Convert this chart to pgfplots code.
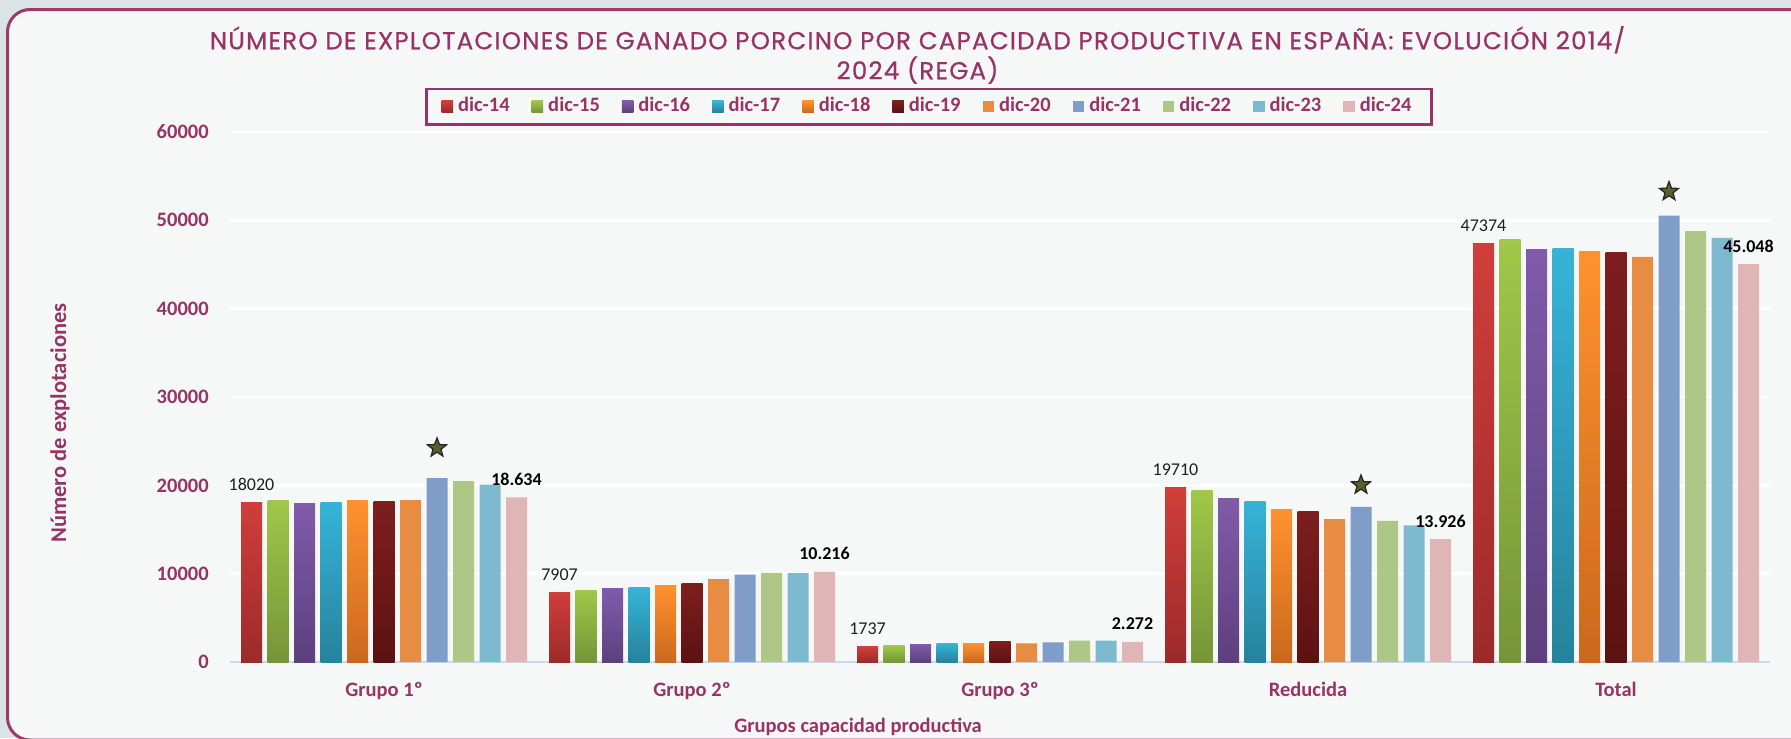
\documentclass[border=0pt]{standalone}
\usepackage{fontspec}
\setmainfont{Carlito}
\newfontfamily\titlefont[LetterSpace=5,FakeBold=0.6]{Poppins}
\usepackage{pgfplots}
\pgfplotsset{compat=1.18}

\definecolor{plum}{HTML}{993366}
\definecolor{outbg}{HTML}{DCE3E5}
\definecolor{inbg}{HTML}{F6F8F7}
\definecolor{frame}{HTML}{9E3A6A}
\definecolor{baseln}{HTML}{C9D9EE}
\definecolor{starfill}{HTML}{5B5E2E}
% series colours, top / bottom of the gradient
\definecolor{c14t}{HTML}{D03E3A}\definecolor{c14b}{HTML}{9C2A2A}
\definecolor{c15t}{HTML}{A0C749}\definecolor{c15b}{HTML}{759538}
\definecolor{c16t}{HTML}{7F5BAA}\definecolor{c16b}{HTML}{5D407E}
\definecolor{c17t}{HTML}{37B3D8}\definecolor{c17b}{HTML}{25839C}
\definecolor{c18t}{HTML}{FF922F}\definecolor{c18b}{HTML}{CB681D}
\definecolor{c19t}{HTML}{7E1E1E}\definecolor{c19b}{HTML}{5C1212}
\definecolor{c20}{HTML}{E88C42}
\definecolor{c21}{HTML}{7F9DC8}
\definecolor{c22}{HTML}{AEC686}
\definecolor{c23}{HTML}{7DBAD0}
\definecolor{c24}{HTML}{DFB5B5}

% filled five-pointed star
\pgfdeclareplotmark{fstar}{%
  \pgfpathmoveto{\pgfpointpolar{90}{\pgfplotmarksize}}%
  \pgfpathlineto{\pgfpointpolar{126}{0.42\pgfplotmarksize}}%
  \pgfpathlineto{\pgfpointpolar{162}{\pgfplotmarksize}}%
  \pgfpathlineto{\pgfpointpolar{198}{0.42\pgfplotmarksize}}%
  \pgfpathlineto{\pgfpointpolar{234}{\pgfplotmarksize}}%
  \pgfpathlineto{\pgfpointpolar{270}{0.42\pgfplotmarksize}}%
  \pgfpathlineto{\pgfpointpolar{306}{\pgfplotmarksize}}%
  \pgfpathlineto{\pgfpointpolar{342}{0.42\pgfplotmarksize}}%
  \pgfpathlineto{\pgfpointpolar{18}{\pgfplotmarksize}}%
  \pgfpathlineto{\pgfpointpolar{54}{0.42\pgfplotmarksize}}%
  \pgfpathclose\pgfusepathqfillstroke}

\begin{document}
\begin{tikzpicture}
\path[use as bounding box, fill=outbg] (0,0) rectangle (716.4pt,-295.2pt);
\draw[fill=inbg, draw=frame, line width=1.2pt, rounded corners=9pt] (3pt,-3.8pt) rectangle (740pt,-296pt);

\begin{axis}[
    at={(92pt,-264.8pt)}, anchor=south west,
    scale only axis, width=616pt, height=212pt,
    xmin=-0.5, xmax=4.5, ymin=0, ymax=60000,
    axis x line*=bottom, axis y line*=left,
    y axis line style={draw=none},
    x axis line style={draw=baseln, line width=0.9pt},
    major tick length=0pt,
    ymajorgrids, grid style={draw=white, line width=1pt},
    ytick={0,10000,20000,30000,40000,50000,60000},
    scaled y ticks=false,
    yticklabel style={font=\bfseries\fontsize{8.2}{10}\selectfont, text=plum,
        /pgf/number format/assume math mode=true,
        /pgf/number format/1000 sep={}, xshift=-5pt},
    xtick={0,1,2,3,4},
    xticklabels={Grupo 1º,Grupo 2º,Grupo 3º,Reducida,Total},
    xticklabel style={font=\bfseries\fontsize{8.2}{10}\selectfont, text=plum, yshift=-4.6pt},
    bars/.style={ybar, bar width=8.4pt, draw=none, forget plot},
    lab/.style={nodes near coords, point meta=explicit symbolic,
        every node near coord/.append style={font=\fontsize{7.2}{9}\selectfont, text=black!88,
            xshift=-53pt, yshift=1.2pt}},
    boldlab/.style={nodes near coords, point meta=explicit symbolic,
        every node near coord/.append style={font=\bfseries\fontsize{7.2}{9}\selectfont, text=black,
            xshift=53pt, yshift=1.2pt}},
    legend columns=11,
    legend image code/.code={\path[#1, draw=none] (0pt,-2.3pt) rectangle (4.6pt,2.3pt);},
    legend style={at={(0.4539,1.048)}, anchor=center, draw=plum, line width=0.9pt, fill=none,
        font={\color{plum}\bfseries\fontsize{8.2}{10}\selectfont},
        inner xsep=6pt, inner ysep=1.5pt,
        /tikz/every even column/.append style={column sep=6.8pt}},
]
% legend first; the bars below are forget plot
\addlegendimage{top color=c14t, bottom color=c14b}\addlegendentry{dic-14}
\addlegendimage{top color=c15t, bottom color=c15b}\addlegendentry{dic-15}
\addlegendimage{top color=c16t, bottom color=c16b}\addlegendentry{dic-16}
\addlegendimage{top color=c17t, bottom color=c17b}\addlegendentry{dic-17}
\addlegendimage{top color=c18t, bottom color=c18b}\addlegendentry{dic-18}
\addlegendimage{top color=c19t, bottom color=c19b}\addlegendentry{dic-19}
\addlegendimage{fill=c20}\addlegendentry{dic-20}
\addlegendimage{fill=c21}\addlegendentry{dic-21}
\addlegendimage{fill=c22}\addlegendentry{dic-22}
\addlegendimage{fill=c23}\addlegendentry{dic-23}
\addlegendimage{fill=c24}\addlegendentry{dic-24}

% gradient series: one plot per bar so each bar gets its own shading
% dic-14
\addplot[bars, bar shift=-53pt, top color=c14t, bottom color=c14b, lab] coordinates {(0,18020) [18020]};
\addplot[bars, bar shift=-53pt, top color=c14t, bottom color=c14b, lab] coordinates {(1,7907) [7907]};
\addplot[bars, bar shift=-53pt, top color=c14t, bottom color=c14b, lab] coordinates {(2,1737) [1737]};
\addplot[bars, bar shift=-53pt, top color=c14t, bottom color=c14b, lab] coordinates {(3,19710) [19710]};
\addplot[bars, bar shift=-53pt, top color=c14t, bottom color=c14b, lab] coordinates {(4,47374) [47374]};
% dic-15
\addplot[bars, bar shift=-42.4pt, top color=c15t, bottom color=c15b] coordinates {(0,18320)};
\addplot[bars, bar shift=-42.4pt, top color=c15t, bottom color=c15b] coordinates {(1,8095)};
\addplot[bars, bar shift=-42.4pt, top color=c15t, bottom color=c15b] coordinates {(2,1850)};
\addplot[bars, bar shift=-42.4pt, top color=c15t, bottom color=c15b] coordinates {(3,19370)};
\addplot[bars, bar shift=-42.4pt, top color=c15t, bottom color=c15b] coordinates {(4,47790)};
% dic-16
\addplot[bars, bar shift=-31.8pt, top color=c16t, bottom color=c16b] coordinates {(0,17980)};
\addplot[bars, bar shift=-31.8pt, top color=c16t, bottom color=c16b] coordinates {(1,8280)};
\addplot[bars, bar shift=-31.8pt, top color=c16t, bottom color=c16b] coordinates {(2,1960)};
\addplot[bars, bar shift=-31.8pt, top color=c16t, bottom color=c16b] coordinates {(3,18470)};
\addplot[bars, bar shift=-31.8pt, top color=c16t, bottom color=c16b] coordinates {(4,46700)};
% dic-17
\addplot[bars, bar shift=-21.2pt, top color=c17t, bottom color=c17b] coordinates {(0,18100)};
\addplot[bars, bar shift=-21.2pt, top color=c17t, bottom color=c17b] coordinates {(1,8470)};
\addplot[bars, bar shift=-21.2pt, top color=c17t, bottom color=c17b] coordinates {(2,2080)};
\addplot[bars, bar shift=-21.2pt, top color=c17t, bottom color=c17b] coordinates {(3,18200)};
\addplot[bars, bar shift=-21.2pt, top color=c17t, bottom color=c17b] coordinates {(4,46770)};
% dic-18
\addplot[bars, bar shift=-10.6pt, top color=c18t, bottom color=c18b] coordinates {(0,18320)};
\addplot[bars, bar shift=-10.6pt, top color=c18t, bottom color=c18b] coordinates {(1,8660)};
\addplot[bars, bar shift=-10.6pt, top color=c18t, bottom color=c18b] coordinates {(2,2150)};
\addplot[bars, bar shift=-10.6pt, top color=c18t, bottom color=c18b] coordinates {(3,17300)};
\addplot[bars, bar shift=-10.6pt, top color=c18t, bottom color=c18b] coordinates {(4,46510)};
% dic-19
\addplot[bars, bar shift=0pt, top color=c19t, bottom color=c19b] coordinates {(0,18210)};
\addplot[bars, bar shift=0pt, top color=c19t, bottom color=c19b] coordinates {(1,8850)};
\addplot[bars, bar shift=0pt, top color=c19t, bottom color=c19b] coordinates {(2,2340)};
\addplot[bars, bar shift=0pt, top color=c19t, bottom color=c19b] coordinates {(3,17040)};
\addplot[bars, bar shift=0pt, top color=c19t, bottom color=c19b] coordinates {(4,46320)};

% flat series
\addplot[bars, bar shift=10.6pt, fill=c20] coordinates {
    (0,18320) (1,9380) (2,2120) (3,16170) (4,45870)};
\addplot[bars, bar shift=21.2pt, fill=c21] coordinates {
    (0,20810) (1,9900) (2,2230) (3,17560) (4,50540)};
\addplot[bars, bar shift=31.8pt, fill=c22] coordinates {
    (0,20470) (1,10090) (2,2410) (3,15980) (4,48770)};
\addplot[bars, bar shift=42.4pt, fill=c23] coordinates {
    (0,20090) (1,10060) (2,2410) (3,15460) (4,48020)};
\addplot[bars, bar shift=53pt, fill=c24, boldlab] coordinates {
    (0,18634) [18.634] (1,10216) [10.216] (2,2272) [2.272] (3,13926) [13.926] (4,45048) [45.048]};

% stars over the dic-21 peaks
\addplot[only marks, mark=fstar, mark size=4pt, forget plot,
    mark options={fill=starfill, draw=black!85, line width=0.5pt, xshift=21.2pt}] coordinates {
    (0,24235) (3,20045) (4,53260)};
\end{axis}

\node[font=\titlefont\fontsize{9.8}{12}\selectfont, text=plum, align=center] at (367pt,-22pt)
    {NÚMERO DE EXPLOTACIONES DE GANADO PORCINO POR CAPACIDAD PRODUCTIVA EN ESPAÑA: EVOLUCIÓN 2014/\\2024 (REGA)};
\node[rotate=90, font=\bfseries\fontsize{9}{11}\selectfont, text=plum] at (24pt,-169.2pt) {Número de explotaciones};
\node[font=\bfseries\fontsize{8.2}{10}\selectfont, text=plum] at (343.2pt,-290.8pt) {Grupos capacidad productiva};
\end{tikzpicture}
\end{document}
